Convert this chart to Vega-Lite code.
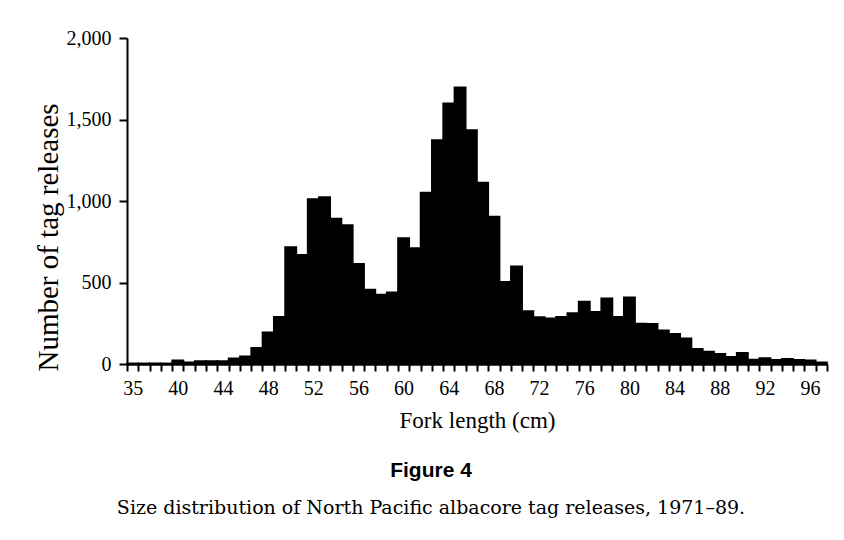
{
  "$schema": "https://vega.github.io/schema/vega-lite/v6.json",
  "autosize": "none",
  "width": 700,
  "height": 326,
  "padding": {"left": 127, "top": 38, "right": 17, "bottom": 176},
  "background": "white",
  "data": {
    "values": [
      {"cm": 36, "n": 4}, {"cm": 37, "n": 4}, {"cm": 38, "n": 4}, {"cm": 39, "n": 4},
      {"cm": 40, "n": 22}, {"cm": 41, "n": 10}, {"cm": 42, "n": 18}, {"cm": 43, "n": 18},
      {"cm": 44, "n": 18}, {"cm": 45, "n": 35}, {"cm": 46, "n": 48}, {"cm": 47, "n": 99},
      {"cm": 48, "n": 195}, {"cm": 49, "n": 289}, {"cm": 50, "n": 718}, {"cm": 51, "n": 670},
      {"cm": 52, "n": 1012}, {"cm": 53, "n": 1024}, {"cm": 54, "n": 893}, {"cm": 55, "n": 852},
      {"cm": 56, "n": 615}, {"cm": 57, "n": 456}, {"cm": 58, "n": 426}, {"cm": 59, "n": 440},
      {"cm": 60, "n": 773}, {"cm": 61, "n": 712}, {"cm": 62, "n": 1052}, {"cm": 63, "n": 1374},
      {"cm": 64, "n": 1600}, {"cm": 65, "n": 1698}, {"cm": 66, "n": 1436}, {"cm": 67, "n": 1113},
      {"cm": 68, "n": 905}, {"cm": 69, "n": 504}, {"cm": 70, "n": 599}, {"cm": 71, "n": 325},
      {"cm": 72, "n": 288}, {"cm": 73, "n": 281}, {"cm": 74, "n": 289}, {"cm": 75, "n": 313},
      {"cm": 76, "n": 383}, {"cm": 77, "n": 321}, {"cm": 78, "n": 403}, {"cm": 79, "n": 289},
      {"cm": 80, "n": 409}, {"cm": 81, "n": 248}, {"cm": 82, "n": 246}, {"cm": 83, "n": 207},
      {"cm": 84, "n": 185}, {"cm": 85, "n": 158}, {"cm": 86, "n": 93}, {"cm": 87, "n": 77},
      {"cm": 88, "n": 62}, {"cm": 89, "n": 44}, {"cm": 90, "n": 68}, {"cm": 91, "n": 28},
      {"cm": 92, "n": 36}, {"cm": 93, "n": 26}, {"cm": 94, "n": 32}, {"cm": 95, "n": 26},
      {"cm": 96, "n": 22}, {"cm": 97, "n": 10}
    ]
  },
  "title": {
    "text": "Figure 4",
    "subtitle": "Size distribution of North Pacific albacore tag releases, 1971–89.",
    "orient": "bottom",
    "anchor": "middle",
    "frame": "bounds",
    "font": "Liberation Sans",
    "fontSize": 21,
    "fontWeight": "bold",
    "color": "black",
    "subtitleFont": "DejaVu Serif",
    "subtitleFontSize": 19,
    "subtitleColor": "black",
    "subtitlePadding": 18,
    "offset": 28
  },
  "mark": {"type": "bar", "color": "black", "stroke": "black", "strokeWidth": 1.6},
  "encoding": {
    "x": {
      "field": "cm",
      "type": "ordinal",
      "scale": {"paddingInner": 0, "paddingOuter": 0},
      "axis": {
        "title": "Fork length (cm)",
        "labelAngle": 0,
        "labelExpr": "datum.value == 36 ? '35' : (indexof([40,44,48,52,56,60,64,68,72,76,80,84,88,92,96], datum.value) >= 0 ? datum.label : '')",
        "tickBand": "extent",
        "tickSize": 7,
        "tickWidth": 2,
        "tickColor": "black",
        "domainColor": "black",
        "domainWidth": 2.5,
        "labelFont": "Liberation Serif",
        "labelFontSize": 20,
        "labelColor": "black",
        "labelPadding": 7,
        "titleFont": "Liberation Serif",
        "titleFontSize": 23,
        "titleFontWeight": "normal",
        "titleColor": "black",
        "titlePadding": 11,
        "grid": false
      }
    },
    "y": {
      "field": "n",
      "type": "quantitative",
      "scale": {"domain": [0, 2000], "nice": false},
      "axis": {
        "title": "Number of tag releases",
        "values": [0, 500, 1000, 1500, 2000],
        "format": ",d",
        "grid": false,
        "tickSize": 8,
        "tickWidth": 2,
        "tickColor": "black",
        "domainColor": "black",
        "domainWidth": 2,
        "labelFont": "Liberation Serif",
        "labelFontSize": 20,
        "labelColor": "black",
        "labelPadding": 8,
        "titleFont": "Liberation Serif",
        "titleFontSize": 29,
        "titleFontWeight": "normal",
        "titleColor": "black",
        "titleX": -79,
        "titleY": 199,
        "titleBaseline": "middle",
        "titleAngle": -90
      }
    }
  },
  "config": {"view": {"stroke": null}}
}
